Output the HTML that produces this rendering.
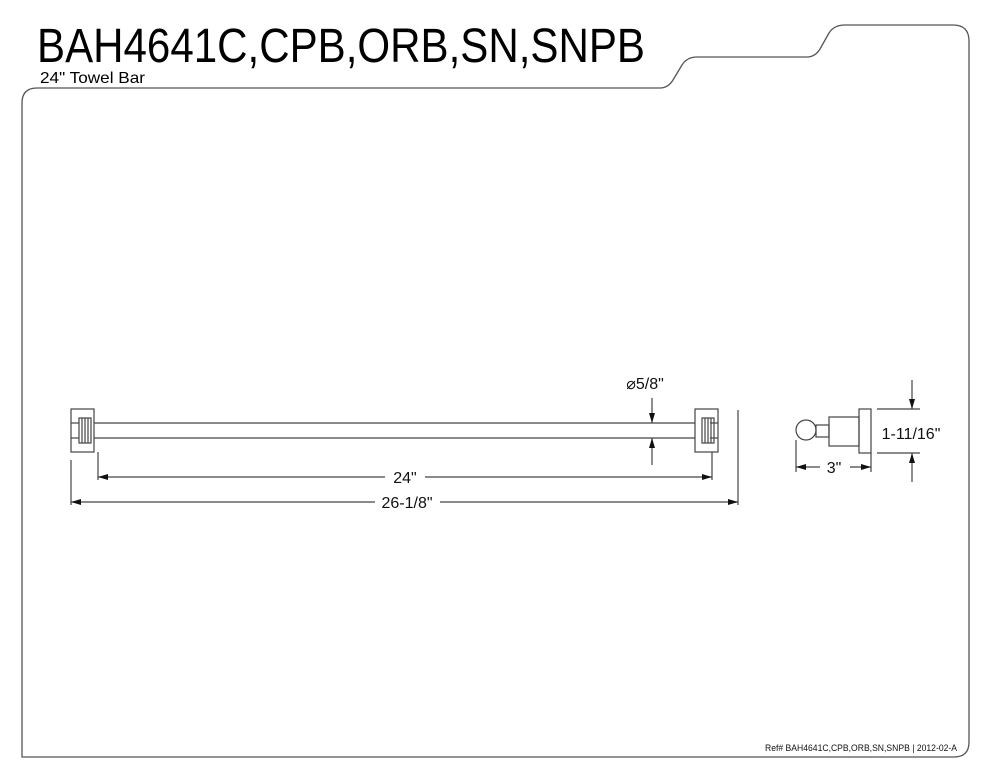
<!DOCTYPE html>
<html><head><style>
body{margin:0;background:#fff;}
svg{display:block;font-family:"Liberation Sans",sans-serif;}
</style></head><body>
<svg width="990" height="768" viewBox="0 0 990 768">
<defs>
<marker id="a" viewBox="0 0 10 6" refX="10" refY="3" markerWidth="10" markerHeight="6" orient="auto" markerUnits="userSpaceOnUse"><path d="M0,0L10,3L0,6z" fill="#111"/></marker>
</defs>
<g fill="none" stroke="#555" stroke-width="1.3">
<path d="M22,757 L22,103 Q22,88 37,88 L660,88 Q668,88 673,80 L682,65 Q687,57 697,57 L807,57 Q815,57 820,49 L829,33 Q834,25 845,25 L953,25 Q969,25 969,41 L969,742 Q969,757 954,757 Z"/>
</g>
<text x="37" y="62" font-size="48" textLength="608" lengthAdjust="spacingAndGlyphs" fill="#000">BAH4641C,CPB,ORB,SN,SNPB</text>
<text x="40" y="83" font-size="16" textLength="105" lengthAdjust="spacingAndGlyphs" fill="#000">24" Towel Bar</text>
<g fill="none" stroke="#444" stroke-width="1.2">
<rect x="71" y="409" width="23" height="43"/>
<rect x="695" y="409" width="23" height="43"/>
<line x1="94" y1="423" x2="695" y2="423"/><line x1="94" y1="438" x2="695" y2="438"/>
<line x1="71" y1="423" x2="79" y2="423"/><line x1="71" y1="438" x2="79" y2="438"/>
<line x1="710" y1="423" x2="718" y2="423"/><line x1="710" y1="438" x2="718" y2="438"/>
<rect x="79" y="418" width="12" height="25"/>
<line x1="82" y1="418" x2="82" y2="443"/><line x1="85" y1="418" x2="85" y2="443"/><line x1="88" y1="418" x2="88" y2="443"/>
<rect x="702" y="418" width="12" height="25"/>
<line x1="705" y1="418" x2="705" y2="443"/><line x1="708" y1="418" x2="708" y2="443"/><line x1="711" y1="418" x2="711" y2="443"/>
<line x1="98" y1="452" x2="98" y2="480"/><line x1="712" y1="452" x2="712" y2="480"/>
<line x1="71" y1="460" x2="71" y2="505"/><line x1="738" y1="410" x2="738" y2="505"/>
<line x1="130" y1="477" x2="98" y2="477" marker-end="url(#a)"/>
<line x1="130" y1="477" x2="385" y2="477"/>
<line x1="425" y1="477" x2="712" y2="477" marker-end="url(#a)"/>
<line x1="110" y1="502" x2="71" y2="502" marker-end="url(#a)"/>
<line x1="110" y1="502" x2="375" y2="502"/>
<line x1="440" y1="502" x2="738" y2="502" marker-end="url(#a)"/>
<line x1="652" y1="398" x2="652" y2="423" marker-end="url(#a)"/>
<line x1="652" y1="465" x2="652" y2="438" marker-end="url(#a)"/>
<circle cx="806" cy="430" r="10"/>
<rect x="816" y="425" width="13" height="12"/>
<rect x="829" y="417" width="30" height="29"/>
<rect x="859" y="409" width="12" height="44"/>
<line x1="877" y1="409" x2="920" y2="409"/><line x1="877" y1="453" x2="920" y2="453"/>
<line x1="912" y1="380" x2="912" y2="409" marker-end="url(#a)"/>
<line x1="912" y1="482" x2="912" y2="453" marker-end="url(#a)"/>
<line x1="796" y1="440" x2="796" y2="472"/><line x1="871" y1="453" x2="871" y2="472"/>
<line x1="820" y1="467" x2="796" y2="467" marker-end="url(#a)"/>
<line x1="850" y1="467" x2="871" y2="467" marker-end="url(#a)"/>
</g>
<g fill="#111" font-size="16" text-anchor="middle">
<text x="405" y="483">24"</text>
<text x="407" y="508">26-1/8"</text>
<text x="645" y="389">⌀5/8"</text>
<text x="911" y="439">1-11/16"</text>
<text x="834" y="473">3"</text>
</g>
<text x="765" y="751" font-size="9" textLength="192" lengthAdjust="spacingAndGlyphs" fill="#111">Ref# BAH4641C,CPB,ORB,SN,SNPB | 2012-02-A</text>
</svg>
</body></html>
